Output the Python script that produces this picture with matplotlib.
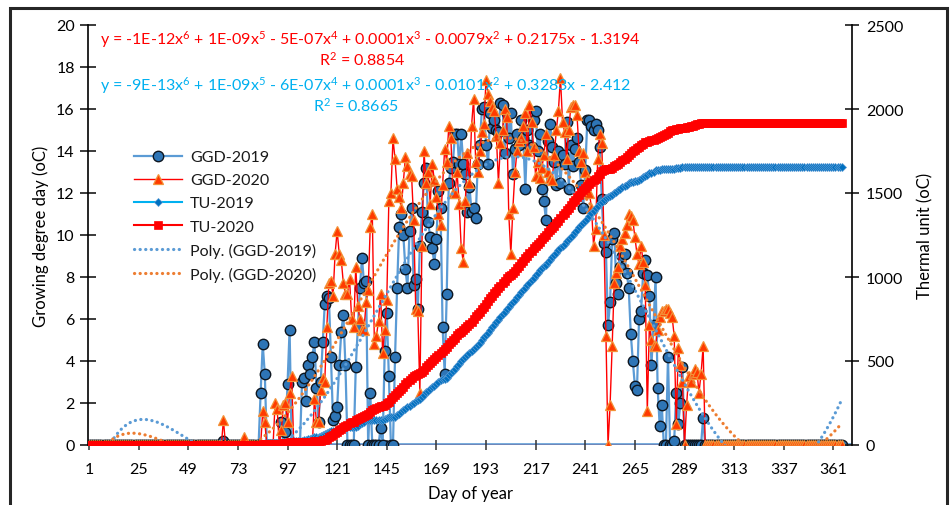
import numpy as np
import matplotlib.pyplot as plt
from matplotlib.patches import Rectangle

plt.rcParams['font.family'] = ['Lato', 'DejaVu Sans']
plt.rcParams['text.color'] = '#1a1a1a'
plt.rcParams['mathtext.fontset'] = 'custom'
plt.rcParams['mathtext.rm'] = 'Lato'
plt.rcParams['mathtext.default'] = 'regular'

days = np.arange(1, 366)
season_start = 81

# daily growing degree days, day 81 to day 300 (ten days per row)
ggd_2019_season = [
    0, 0, 0, 2.5, 4.8, 3.4, 0, 0, 0, 0,
    0, 0, 0, 1.1, 0, 0.6, 2.9, 5.5, 0, 0,
    0, 0, 0, 3.0, 3.2, 2.1, 3.8, 3.4, 4.2, 4.9,
    2.7, 1.1, 3.0, 4.9, 6.7, 7.1, 7.0, 4.2, 1.2, 1.4,
    1.8, 3.8, 5.4, 6.2, 3.8, 0, 0, 0, 0, 3.7,
    5.6, 7.5, 8.9, 7.7, 7.8, 0, 2.5, 0, 0, 0,
    0, 0.8, 0, 4.5, 6.3, 3.3, 0, 0, 4.2, 7.5,
    10.4, 11.0, 10.0, 8.4, 7.5, 10.2, 11.3, 7.6, 7.9, 6.5,
    9.5, 11.1, 12.5, 13.2, 10.6, 9.9, 9.4, 8.6, 9.8, 12.1,
    11.3, 5.6, 3.4, 7.2, 12.5, 13.2, 13.5, 14.8, 14.8, 13.4,
    14.8, 13.4, 12.9, 11.1, 12.3, 11.1, 11.3, 10.8, 13.4, 14.3,
    16.0, 16.1, 14.3, 13.4, 15.8, 15.1, 15.5, 15.0, 14.9, 16.3,
    16.2, 13.9, 15.8, 14.6, 15.8, 12.9, 14.1, 14.8, 14.3, 15.5,
    14.6, 12.2, 15.0, 14.3, 14.2, 15.5, 15.9, 14.0, 14.8, 12.2,
    11.6, 10.7, 14.5, 15.3, 14.2, 13.5, 12.4, 14.0, 12.5, 13.8,
    13.4, 15.4, 12.2, 14.3, 13.3, 14.1, 14.6, 13.5, 12.4, 11.3,
    13.1, 15.5, 15.5, 15.2, 15.0, 15.3, 15.0, 14.2, 11.7, 9.6,
    9.2, 5.7, 6.8, 9.8, 10.1, 7.7, 7.2, 8.5, 9.0, 9.1,
    8.2, 7.5, 5.3, 4.0, 2.8, 2.6, 6.0, 6.4, 8.2, 8.8,
    8.1, 7.1, 3.8, 5.7, 8.0, 2.7, 0.9, 1.9, 0, 0,
    4.2, 0, 0, 0.2, 2.5, 1.0, 2.0, 3.7, 0, 0,
    0, 0, 0, 0, 0, 0, 0, 1.3, 0, 0,
]
ggd_2020_season = [
    0, 0, 0, 0, 1.6, 1.1, 0, 0, 0, 0,
    2.0, 1.7, 0, 0.7, 1.9, 2.0, 1.1, 2.5, 3.3, 0,
    0, 0, 0, 0, 0, 0, 0, 0, 0, 2.2,
    1.1, 1.1, 2.6, 3.2, 3.0, 5.6, 7.7, 7.8, 7.1, 9.1,
    10.2, 9.1, 8.8, 7.7, 7.2, 7.2, 7.9, 6.0, 5.6, 8.5,
    6.6, 6.0, 5.5, 5.5, 6.8, 7.4, 10.4, 11.0, 4.8, 5.2,
    5.9, 7.2, 4.4, 5.5, 6.9, 11.6, 12.0, 14.6, 13.6, 12.2,
    11.8, 11.3, 12.5, 13.7, 13.3, 12.9, 12.8, 10.7, 6.5, 6.4,
    2.5, 9.5, 14.0, 12.5, 13.0, 11.5, 13.4, 12.6, 11.8, 11.0,
    10.5, 12.4, 14.1, 13.5, 15.2, 14.6, 12.0, 12.0, 13.0, 11.5,
    9.4, 8.7, 11.6, 13.9, 12.5, 15.2, 16.5, 13.5, 13.0, 14.0,
    14.9, 15.3, 17.4, 16.7, 16.4, 16.1, 15.9, 14.7, 12.5, 14.4,
    15.0, 16.0, 15.6, 11.0, 9.1, 11.3, 13.0, 14.0, 14.5, 14.6,
    15.2, 15.8, 14.0, 16.2, 15.4, 14.2, 12.8, 13.5, 12.7, 13.2,
    13.8, 14.8, 13.0, 12.7, 12.6, 13.8, 15.0, 15.9, 17.5, 15.4,
    14.9, 13.6, 15.0, 16.1, 16.2, 16.2, 15.7, 14.0, 13.5, 13.9,
    13.0, 12.6, 12.0, 11.3, 9.5, 10.3, 13.6, 14.8, 14.4, 10.0,
    5.2, 0, 1.9, 4.7, 7.7, 8.2, 8.5, 9.5, 9.8, 10.1,
    10.5, 11.0, 10.9, 10.7, 9.9, 9.1, 8.6, 9.5, 8.7, 7.6,
    1.6, 5.7, 5.0, 4.7, 4.7, 5.5, 6.1, 6.4, 6.4, 6.5,
    6.5, 6.3, 6.1, 5.2, 1.0, 4.6, 3.8, 3.0, 0, 1.9,
    3.3, 3.0, 3.4, 3.6, 3.5, 2.5, 3.4, 4.7, 0, 0,
]
# isolated warm days before the season
ggd_2019_early = {66: 0.2}
ggd_2020_early = {66: 1.2, 76: 0.4}

eq_2020 = ('y = -1E-12x$^{6}$ + 1E-09x$^{5}$ - 5E-07x$^{4}$ + 0.0001x$^{3}$ '
           '- 0.0079x$^{2}$ + 0.2175x - 1.3194')
r2_2020 = 'R$^{2}$ = 0.8854'
eq_2019 = ('y = -9E-13x$^{6}$ + 1E-09x$^{5}$ - 6E-07x$^{4}$ + 0.0001x$^{3}$ '
           '- 0.0101x$^{2}$ + 0.3283x - 2.412')
r2_2019 = 'R$^{2}$ = 0.8665'


def full_year(season, early):
    vals = np.zeros(len(days))
    for d, v in early.items():
        vals[d - 1] = v
    vals[season_start - 1:season_start - 1 + len(season)] = season
    return vals


ggd_2019 = full_year(ggd_2019_season, ggd_2019_early)
ggd_2020 = full_year(ggd_2020_season, ggd_2020_early)
# thermal unit = accumulated GGD
tu_2019 = np.cumsum(ggd_2019)
tu_2020 = np.cumsum(ggd_2020)
# 6th order polynomial trend lines
poly_2019 = np.polynomial.Polynomial.fit(days, ggd_2019, 6)(days)
poly_2020 = np.polynomial.Polynomial.fit(days, ggd_2020, 6)(days)

W, H = 952, 506
fig = plt.figure(figsize=(W / 100, H / 100), dpi=100)
ax = fig.add_axes([88 / W, 1 - 446 / H, (852 - 88) / W, (446 - 26) / H])

# zero line along the day axis
ax.axhline(0, color='#5B9BD5', lw=2.6, zorder=1)
ax.axhline(0, color='#FF0000', lw=0.9, zorder=1.1)

dots = (0, (0.05, 1.7))
l1, = ax.plot(days, ggd_2019, color='#5B9BD5', lw=1.6, marker='o', ms=7.5,
              mfc='#2E75B6', mec='#0d1620', mew=1.0, label='GGD-2019', zorder=2)
l2, = ax.plot(days, ggd_2020, color='#FF0000', lw=1.0, marker='^', ms=7.5,
              mfc='#FF3A00', mec='#F39137', mew=0.9, label='GGD-2020', zorder=3)
p1, = ax.plot(days, poly_2019, color='#5B9BD5', lw=2.3, ls=dots,
              dash_capstyle='round', label='Poly. (GGD-2019)', zorder=4)
p2, = ax.plot(days, poly_2020, color='#ED7D31', lw=2.3, ls=dots,
              dash_capstyle='round', label='Poly. (GGD-2020)', zorder=4)

ax.set_xlim(0.5, 370)
ax.set_ylim(0, 20)
ax.set_xticks(np.arange(1, 362, 24))
ax.set_yticks(np.arange(0, 21, 2))
ax.tick_params(axis='x', direction='inout', length=7, width=1.1,
               color='#333333', labelsize=11.5, pad=9)
ax.tick_params(axis='y', direction='inout', length=11, width=1.2,
               color='#1a1a1a', labelsize=11.5, pad=4)
for side in ('top', 'right'):
    ax.spines[side].set_visible(False)
ax.spines['left'].set_linewidth(1.2)
ax.spines['bottom'].set_visible(False)
ax.set_xlabel('Day of year', fontsize=12, labelpad=6)
ax.set_ylabel('Growing degree day (oC)', fontsize=12, labelpad=5)

ax2 = ax.twinx()
t1, = ax2.plot(days, tu_2019, color='#00B0F0', lw=1.5, marker='D', ms=4,
               mfc='#0070C0', mec='#5B9BD5', mew=0.5, label='TU-2019')
t2, = ax2.plot(days, tu_2020, color='#FF0000', lw=1.5, marker='s', ms=6,
               mfc='#FF0000', mec='#FF0000', mew=0.5, label='TU-2020')
ax2.set_ylim(0, 2500)
ax2.set_yticks(np.arange(0, 2501, 500))
ax2.tick_params(axis='y', direction='inout', length=10, width=1.2,
                color='#1a1a1a', labelsize=11.5, pad=5)
for side in ('top', 'left', 'bottom'):
    ax2.spines[side].set_visible(False)
ax2.spines['right'].set_linewidth(1.2)
ax2.set_ylabel('Thermal unit (oC)', fontsize=12, labelpad=10)

ax2.legend(handles=[l1, l2, t1, t2, p1, p2], loc='upper left',
           bbox_to_anchor=(134 / W, 1 - 151 / H),
           bbox_transform=fig.transFigure, frameon=False,
           fontsize=11.5, handlelength=3.0, handletextpad=0.5,
           labelspacing=0.56, borderpad=0, borderaxespad=0)

# trend line equations
fig.text(100 / W, 1 - 40 / H, eq_2020, color='#FF0000', fontsize=11.5,
         va='center', ha='left')
fig.text(362 / W, 1 - 60 / H, r2_2020, color='#FF0000', fontsize=11.5,
         va='center', ha='center')
fig.text(100 / W, 1 - 86 / H, eq_2019, color='#00B0F0', fontsize=11.5,
         va='center', ha='left')
fig.text(356 / W, 1 - 106 / H, r2_2019, color='#00B0F0', fontsize=11.5,
         va='center', ha='center')

# outer frame
fig.patches.append(Rectangle((10 / W, -0.05), 937 / W, 1.05 - 9 / H,
                             transform=fig.transFigure, fill=False,
                             edgecolor='#262626', lw=2.2))

fig.savefig('out.png', dpi=100)
